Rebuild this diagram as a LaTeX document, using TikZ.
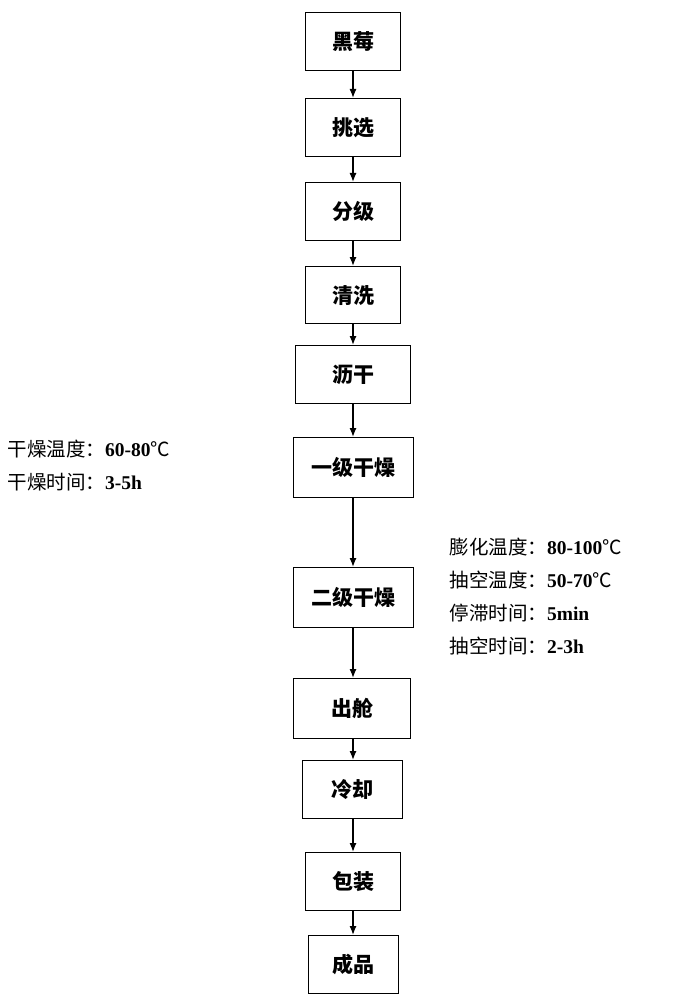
\documentclass[tikz,border=0pt]{standalone}
\usepackage{fontspec}
\setmainfont{Liberation Serif}
\newfontfamily\cjk{Noto Sans CJK SC}
\newfontfamily\cjkb{Noto Sans CJK SC}[BoldFont=*,FakeBold=2]
\usetikzlibrary{arrows.meta}
\begin{document}
\begin{tikzpicture}[x=1pt,y=-1pt,
  box/.style={draw,line width=1.2pt,anchor=north west,inner sep=0pt},
  lbl/.style={font=\cjk\bfseries\fontsize{21}{22}\selectfont},
  arr/.style={-{Latex[length=9pt,width=7pt]},line width=1.3pt},
  note/.style={anchor=north west,align=left,font=\fontsize{19.5}{33}\selectfont}]
\useasboundingbox (0,0) rectangle (678,1000);
\newcommand\bx[6]{\node[box,minimum width=#4-#2,minimum height=#5-#3] (#1) at (#2,#3) {};\node[lbl] at (#1) {#6};}
\bx{a}{305}{12}{400}{70}{黑莓}
\bx{b}{305}{98}{400}{156}{挑选}
\bx{c}{305}{182}{400}{240}{分级}
\bx{d}{305}{266}{400}{323}{清洗}
\bx{e}{295}{345}{410}{403}{沥干}
\bx{f}{293}{437}{413}{497}{一级干燥}
\bx{g}{293}{567}{413}{627}{二级干燥}
\bx{h}{293}{678}{410}{738}{出舱}
\bx{i}{302}{760}{402}{818}{冷却}
\bx{j}{305}{852}{400}{910}{包装}
\bx{k}{308}{935}{398}{993}{成品}
\foreach \p/\q in {a/b,b/c,c/d,d/e,e/f,f/g,g/h,h/i,i/j,j/k}
  \draw[arr] (\p.south-|353,0) -- (\q.north-|353,0);
\node[note] (n1) at (4,436) {{\cjk 干燥温度：}\textbf{60-80}{\cjk ℃}\\{\cjk 干燥时间：}\textbf{3-5h}};
\node[note] (n2) at (446,534) {{\cjk 膨化温度：}\textbf{80-100}{\cjk ℃}\\{\cjk 抽空温度：}\textbf{50-70}{\cjk ℃}\\{\cjk 停滞时间：}\textbf{5min}\\{\cjk 抽空时间：}\textbf{2-3h}};
\end{tikzpicture}
\end{document}
